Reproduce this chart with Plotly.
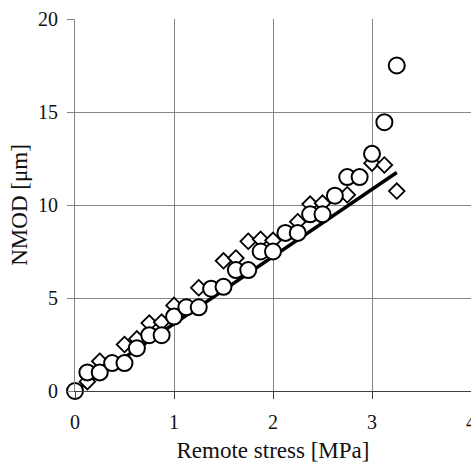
import plotly.graph_objects as go

# Series A (circles)
circle_x = [0, 0.125, 0.25, 0.375, 0.5, 0.625, 0.75, 0.875, 1.0, 1.125, 1.25, 1.375,
            1.5, 1.625, 1.75, 1.875, 2.0, 2.125, 2.25, 2.375, 2.5, 2.625, 2.75, 2.875,
            3.0, 3.125, 3.25]
circle_y = [0, 1.0, 1.0, 1.5, 1.5, 2.3, 3.0, 3.0, 4.0, 4.5, 4.5, 5.5,
            5.6, 6.5, 6.5, 7.5, 7.5, 8.5, 8.5, 9.5, 9.5, 10.5, 11.5, 11.5,
            12.75, 14.45, 17.5]

# Series B (diamonds)
diamond_x = [0.125, 0.25, 0.5, 0.625, 0.75, 0.875, 1.0, 1.25, 1.5, 1.625, 1.75, 1.875,
             2.0, 2.25, 2.375, 2.5, 2.75, 3.0, 3.125, 3.25]
diamond_y = [0.5, 1.6, 2.5, 2.8, 3.65, 3.7, 4.6, 5.55, 7.0, 7.15, 8.05, 8.15,
             8.1, 9.1, 10.05, 10.1, 10.55, 12.25, 12.15, 10.75]

# Fitted line
fit_x = [0, 3.25]
fit_y = [0, 11.75]

FONT = "Liberation Serif, Times New Roman, serif"
GRID = "#868686"

fig = go.Figure()
fig.add_trace(go.Scatter(x=fit_x, y=fit_y, mode="lines",
                         line=dict(color="black", width=3.5), showlegend=False))
fig.add_trace(go.Scatter(x=diamond_x, y=diamond_y, mode="markers",
                         marker=dict(symbol="diamond", size=12, color="white",
                                     line=dict(color="black", width=1.8)),
                         showlegend=False, cliponaxis=False))
fig.add_trace(go.Scatter(x=circle_x, y=circle_y, mode="markers",
                         marker=dict(symbol="circle", size=16, color="white",
                                     line=dict(color="black", width=2)),
                         showlegend=False, cliponaxis=False))

fig.update_layout(
    width=471, height=463,
    margin=dict(l=75, r=0, t=19, b=72),
    paper_bgcolor="white", plot_bgcolor="white",
    font=dict(family=FONT, size=20, color="#111"),
    xaxis=dict(range=[0, 4], tickvals=[0, 1, 2, 3, 4], showgrid=True,
               gridcolor=GRID, gridwidth=1, zeroline=False, showline=True,
               linecolor="#404040", linewidth=1, ticks="outside", ticklen=7,
               tickcolor="#404040", ticklabeloverflow="allow", ticklabelstandoff=6,
               automargin=False,
               title=dict(text="Remote stress [MPa]", font=dict(size=23), standoff=14)),
    yaxis=dict(range=[0, 20], tickvals=[0, 5, 10, 15, 20], showgrid=True,
               gridcolor=GRID, gridwidth=1, zeroline=False, showline=True,
               linecolor=GRID, linewidth=1, ticks="outside", ticklen=7,
               tickcolor=GRID, ticklabelstandoff=5, automargin=False,
               title=dict(text="NMOD [μm]", font=dict(size=23), standoff=3)),
)

fig.write_html("out.html")
